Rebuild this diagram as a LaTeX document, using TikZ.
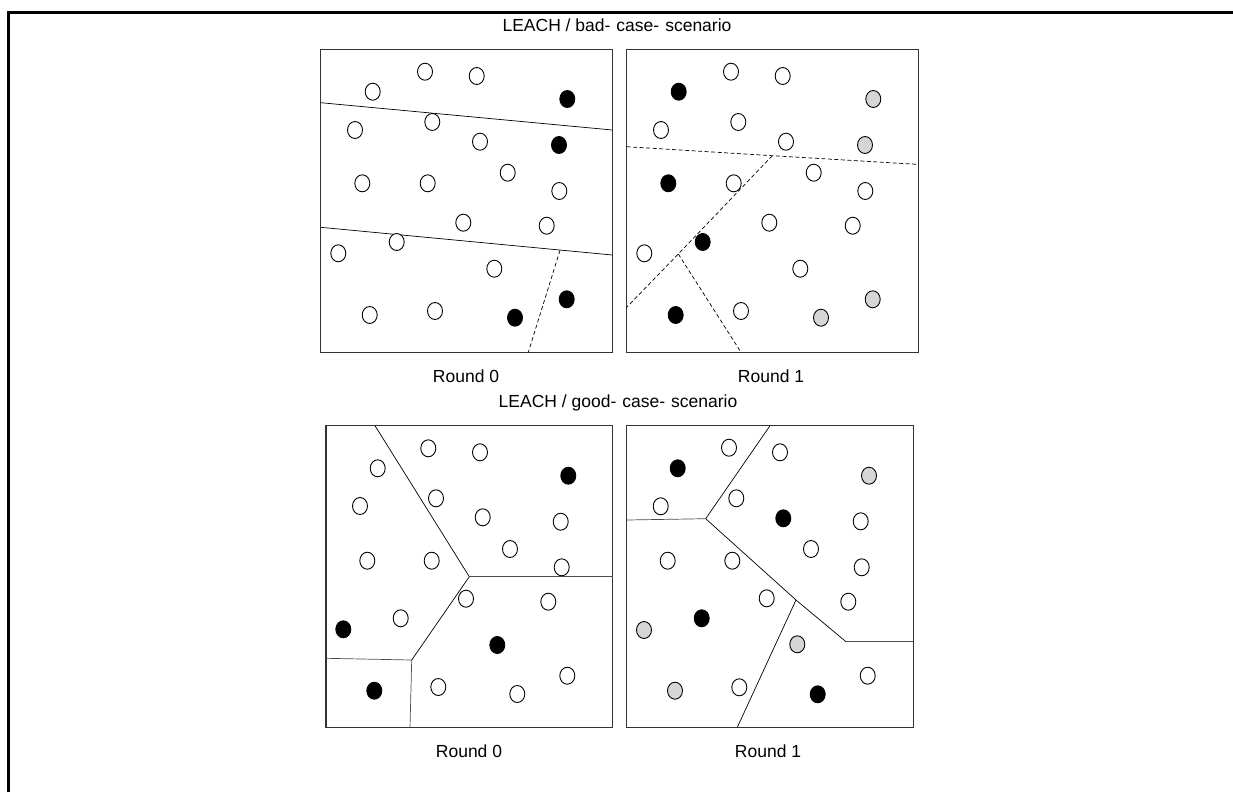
\documentclass[tikz,border=0pt]{standalone}
\usepackage{fontspec}
\setmainfont{Liberation Sans}
\usetikzlibrary{shapes.geometric}
\begin{document}
\begin{tikzpicture}[x=1pt,y=-1pt,
  nd/.style={ellipse,draw=black,line width=0.9pt,minimum width=15pt,minimum height=17pt,inner sep=0pt},
  opn/.style={nd,fill=white},
  chd/.style={nd,fill=black},
  gry/.style={nd,fill=black!16},
  panel/.style={draw=black!80,line width=1.2pt},
  bnd/.style={draw=black,line width=0.7pt},
  bndd/.style={draw=black,line width=0.7pt,dash pattern=on 4pt off 2.5pt},
  lbl/.style={font=\fontsize{17.5}{20}\selectfont,inner sep=0pt},
  frm/.style={draw=black,line width=3pt}]
\useasboundingbox (0,0) rectangle (1233,792);
% frame
\draw[frm] (8.5,792) -- (8.5,12.5) -- (1233,12.5);
% titles
\node[lbl] (t1) at (617,25.5) {LEACH / bad-\hspace{6pt}case-\hspace{6pt}scenario};
\node[lbl] (t2) at (618,402.5) {LEACH / good-\hspace{6pt}case-\hspace{6pt}scenario};
\node[lbl] (r0a) at (466,376) {Round 0};
\node[lbl] (r1a) at (771,376) {Round 1};
\node[lbl] (r0b) at (469,751) {Round 0};
\node[lbl] (r1b) at (768,751) {Round 1};
% ---------- Panel A ----------
\draw[panel] (320.7,49.3) rectangle (612.3,352.3);
\draw[bnd] (320.7,102.7) -- (612.3,130);
\draw[bnd] (320.7,227.3) -- (612.3,255);
\draw[bndd] (560,250.3) -- (528.3,352.3);
\node[opn] (a1) at (425,71.7) {};
\node[opn] (a2) at (476.7,76) {};
\node[opn] (a3) at (372.7,91.7) {};
\node[chd] (a4) at (567.3,99) {};
\node[opn] (a5) at (355,130) {};
\node[opn] (a6) at (432.3,122) {};
\node[opn] (a7) at (480,141.7) {};
\node[chd] (a8) at (559,145) {};
\node[opn] (a9) at (507.7,172.7) {};
\node[opn] (a10) at (362.3,183.3) {};
\node[opn] (a11) at (427.7,183.3) {};
\node[opn] (a12) at (559.3,191) {};
\node[opn] (a13) at (463.3,222.7) {};
\node[opn] (a14) at (546.7,225.7) {};
\node[opn] (a15) at (396.7,242) {};
\node[opn] (a16) at (338.3,253.3) {};
\node[opn] (a17) at (494.3,268.7) {};
\node[chd] (a18) at (566.7,299.3) {};
\node[opn] (a19) at (369.7,315) {};
\node[opn] (a20) at (435,311) {};
\node[chd] (a21) at (515,317.7) {};
% ---------- Panel B ----------
\draw[panel] (626.7,49.3) rectangle (918.3,352.3);
\coordinate (bk1) at (772.3,155.7);
\coordinate (bk2) at (678.3,254);
\draw[bndd] (626.7,146.7) -- (bk1) -- (918.3,164.4);
\draw[bndd] (bk1) -- (bk2) -- (626.7,307.3);
\draw[bndd] (bk2) -- (741,352.3);
\node[opn] (b1) at (731,71.7) {};
\node[opn] (b2) at (782.7,76) {};
\node[chd] (b3) at (678.7,91.7) {};
\node[gry] (b4) at (873.3,99) {};
\node[opn] (b5) at (661,130) {};
\node[opn] (b6) at (738.3,122) {};
\node[opn] (b7) at (786,141.7) {};
\node[gry] (b8) at (865,145) {};
\node[opn] (b9) at (813.7,172.7) {};
\node[chd] (b10) at (668.3,183.3) {};
\node[opn] (b11) at (733.7,183.3) {};
\node[opn] (b12) at (865.3,191) {};
\node[opn] (b13) at (769.3,222.7) {};
\node[opn] (b14) at (852.7,225.7) {};
\node[chd] (b15) at (702.7,242) {};
\node[opn] (b16) at (644.3,253.3) {};
\node[opn] (b17) at (800.3,268.7) {};
\node[gry] (b18) at (872.7,299.3) {};
\node[chd] (b19) at (675.7,315) {};
\node[opn] (b20) at (741,311) {};
\node[gry] (b21) at (821,317.7) {};
% ---------- Panel C ----------
\draw[panel] (326,425.7) rectangle (612.7,727.7);
\coordinate (ck1) at (469.3,576.7);
\coordinate (ck2) at (411.7,660);
\draw[bnd] (375,425.7) -- (ck1) -- (ck2);
\draw[bnd,draw=black!70] (ck1) -- (612.7,576.7);
\draw[bnd,draw=black!70] (326,658.3) -- (ck2) -- (410,727.7);
\node[opn] (c1) at (428.3,448.3) {};
\node[opn] (c2) at (480,452.3) {};
\node[opn] (c3) at (377.7,468.3) {};
\node[chd] (c4) at (568.3,475.7) {};
\node[opn] (c5) at (360,506) {};
\node[opn] (c6) at (436,498.3) {};
\node[opn] (c7) at (482.7,517.3) {};
\node[opn] (c8) at (560.7,521.7) {};
\node[opn] (c9) at (510,549) {};
\node[opn] (c10) at (367.3,560.7) {};
\node[opn] (c11) at (431.7,560.7) {};
\node[opn] (c12) at (561.7,567.3) {};
\node[opn] (c13) at (466,598.7) {};
\node[opn] (c14) at (548.3,601.7) {};
\node[opn] (c15) at (400.7,618.3) {};
\node[chd] (c16) at (343.3,629.3) {};
\node[chd] (c17) at (497.3,645) {};
\node[opn] (c18) at (567.3,675.7) {};
\node[chd] (c19) at (374.3,690.7) {};
\node[opn] (c20) at (438.3,687) {};
\node[opn] (c21) at (517.3,694) {};
% ---------- Panel D ----------
\draw[panel] (626.7,425.7) rectangle (913.3,727.3);
\coordinate (dk1) at (705.7,518.7);
\coordinate (dk2) at (796,600);
\coordinate (dk3) at (846,641.7);
\draw[bnd] (770,425.7) -- (dk1) -- (dk2) -- (dk3);
\draw[bnd,draw=black!70] (626.7,520) -- (dk1);
\draw[bnd,draw=black!70] (dk3) -- (913.3,641.7);
\draw[bnd] (dk2) -- (737.3,727.3);
\node[opn] (d1) at (729,447.7) {};
\node[opn] (d2) at (780,452.3) {};
\node[chd] (d3) at (677.7,468.3) {};
\node[gry] (d4) at (869,475.7) {};
\node[opn] (d5) at (660.7,506.3) {};
\node[opn] (d6) at (736.3,498.3) {};
\node[chd] (d7) at (783.3,518.3) {};
\node[opn] (d8) at (860.7,521.3) {};
\node[opn] (d9) at (811,549) {};
\node[opn] (d10) at (667.7,560.7) {};
\node[opn] (d11) at (732.3,560.7) {};
\node[opn] (d12) at (861.7,567.3) {};
\node[opn] (d13) at (766.7,598.3) {};
\node[opn] (d14) at (848.3,601.7) {};
\node[chd] (d15) at (701.7,618.3) {};
\node[gry] (d16) at (644,630) {};
\node[gry] (d17) at (797.3,644.3) {};
\node[opn] (d18) at (867.7,675.7) {};
\node[gry] (d19) at (675,690.7) {};
\node[opn] (d20) at (739.3,687.3) {};
\node[chd] (d21) at (817.7,694.3) {};
\end{tikzpicture}
\end{document}
